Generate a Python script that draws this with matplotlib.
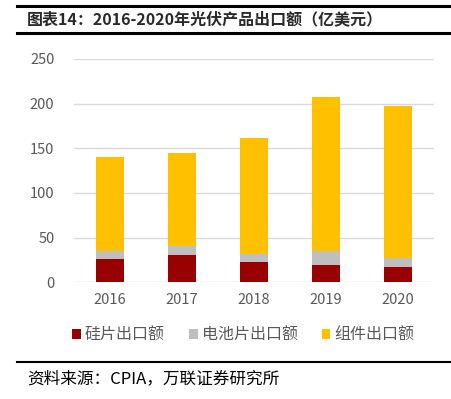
import matplotlib
matplotlib.use('Agg')
import matplotlib.pyplot as plt
import numpy as np

plt.rcParams['font.family'] = ['Noto Sans CJK SC', 'DejaVu Sans']

# 数据（亿美元）
years = ['2016', '2017', '2018', '2019', '2020']
silicon = [26.5, 31, 23, 19.5, 17]      # 硅片出口额
cell = [8.5, 10, 8.5, 15, 10.5]         # 电池片出口额
module = [105, 104, 129.5, 173, 169.5]  # 组件出口额
labels = ['硅片出口额', '电池片出口额', '组件出口额']
colors = ['#990000', '#BFBFBF', '#FFC000']

fig = plt.figure(figsize=(4.51, 3.99), dpi=100)
ax = fig.add_axes([74 / 451, 1 - 282.3 / 399, 360 / 451, 223.3 / 399])

x = np.arange(len(years))
w = 0.4
bottom = np.zeros(len(years))
for vals, lab, col in zip([silicon, cell, module], labels, colors):
    ax.bar(x, vals, w, bottom=bottom, color=col, label=lab, zorder=3)
    bottom += np.array(vals)

ax.set_xlim(-0.5, 4.5)
ax.set_ylim(0, 250)
ax.set_yticks(range(0, 251, 50))
ax.set_xticks(x)
ax.set_xticklabels(years)
ax.grid(axis='y', color='#D9D9D9', linewidth=1, zorder=0)
for s in ax.spines.values():
    s.set_visible(False)
ax.tick_params(length=0, labelsize=10.5, labelcolor='#595959', pad=8)
ax.tick_params(axis='y', pad=14)

# 图例
ax.legend(loc='upper center', bbox_to_anchor=(0.47, -0.135), ncol=3, frameon=False,
          fontsize=11.5, handlelength=0.55, handleheight=0.55, handletextpad=0.25,
          columnspacing=1.5, labelcolor='#595959')

# 标题和线条
fig.text(27 / 451, 1 - 19 / 399, '图表14：2016-2020年光伏产品出口额（亿美元）',
         fontsize=11.5, fontweight='bold', va='center', ha='left', color='#2a2a2a')
fig.add_artist(plt.Line2D([17 / 451, 1], [1 - 6 / 399] * 2, color='black', lw=2.2))
fig.add_artist(plt.Line2D([17 / 451, 1], [1 - 33 / 399] * 2, color='black', lw=2.2))
fig.add_artist(plt.Line2D([17 / 451, 1], [1 - 362 / 399] * 2, color='black', lw=1.5))
fig.text(27 / 451, 1 - 379 / 399, '资料来源：CPIA，万联证券研究所',
         fontsize=12, style='italic', va='center', ha='left', color='black')

fig.savefig('out.png', dpi=100)
